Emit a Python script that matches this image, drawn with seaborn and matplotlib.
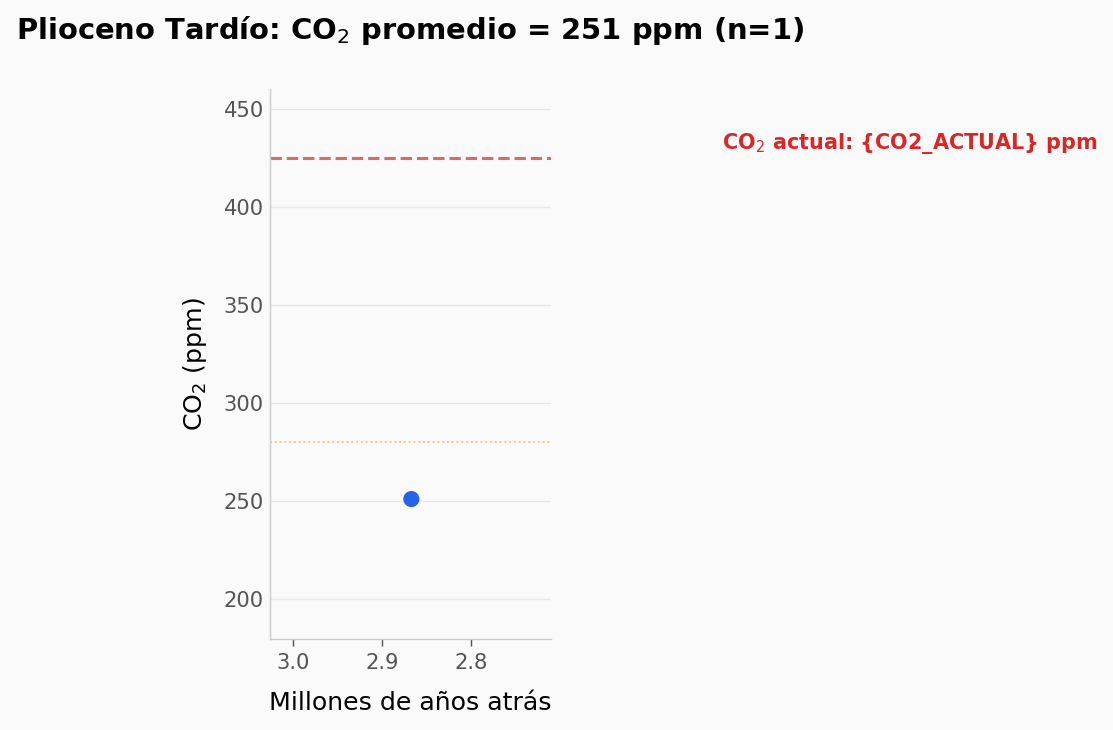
import matplotlib
matplotlib.use('Agg')
import matplotlib.pyplot as plt
import matplotlib.transforms as mtransforms
import seaborn as sns
import pandas as pd

# Datos
edad_ma = [2.867]
co2_ppm = [251]
CO2_ACTUAL = 425
CO2_PREINDUSTRIAL = 280

df = pd.DataFrame({'edad': edad_ma, 'co2': co2_ppm})

sns.set_style('white')
plt.rcParams['font.family'] = ['DejaVu Sans']

DPI = 130
fig, ax = plt.subplots(figsize=(1113 / DPI, 730 / DPI), dpi=DPI)
fig.patch.set_facecolor('#fafafa')
ax.set_facecolor('#fafafa')

sns.scatterplot(data=df, x='edad', y='co2', s=80, color='#2563eb',
                edgecolor='none', ax=ax, zorder=3)

ax.axhline(CO2_ACTUAL, color='#dc2626', linestyle='--', linewidth=1.7, alpha=0.7)
ax.axhline(CO2_PREINDUSTRIAL, color='#f59e0b', linestyle=':', linewidth=1.0, alpha=0.6)

trans = mtransforms.blended_transform_factory(ax.transAxes, ax.transData)
ax.text(1.608, 432.5, 'CO$_2$ actual: {CO2_ACTUAL} ppm', transform=trans,
        color='#dc2626', fontsize=11.5, fontweight='bold', va='center', ha='left')

ax.set_xlim(3.026, 2.71)
ax.set_ylim(179.6, 460.2)
ax.set_xticks([3.0, 2.9, 2.8])
ax.set_yticks([200, 250, 300, 350, 400, 450])

ax.grid(axis='y', color='#e8e8e8', linewidth=0.7)
ax.set_axisbelow(True)
for s in ['top', 'right']:
    ax.spines[s].set_visible(False)
for s in ['left', 'bottom']:
    ax.spines[s].set_color('#cccccc')
ax.tick_params(axis='x', bottom=True, length=4, width=0.8, color='#555555',
               labelsize=11.7, labelcolor='#555555', pad=4)
ax.tick_params(axis='y', length=0, labelsize=11.7, labelcolor='#555555', pad=3.5)

ax.set_xlabel('Millones de años atrás', fontsize=14, labelpad=10, color='black')
ax.set_ylabel('CO$_2$ (ppm)', fontsize=14, labelpad=8, color='black')

fig.suptitle('Plioceno Tardío: CO$_2$ promedio = 251 ppm (n=1)', x=0.014, y=0.981,
             ha='left', fontsize=16.1, fontweight='bold', color='black')

fig.subplots_adjust(left=0.2426, right=0.495, bottom=0.1247, top=0.878)
plt.savefig('out.png', dpi=DPI, facecolor=fig.get_facecolor())
plt.close()
